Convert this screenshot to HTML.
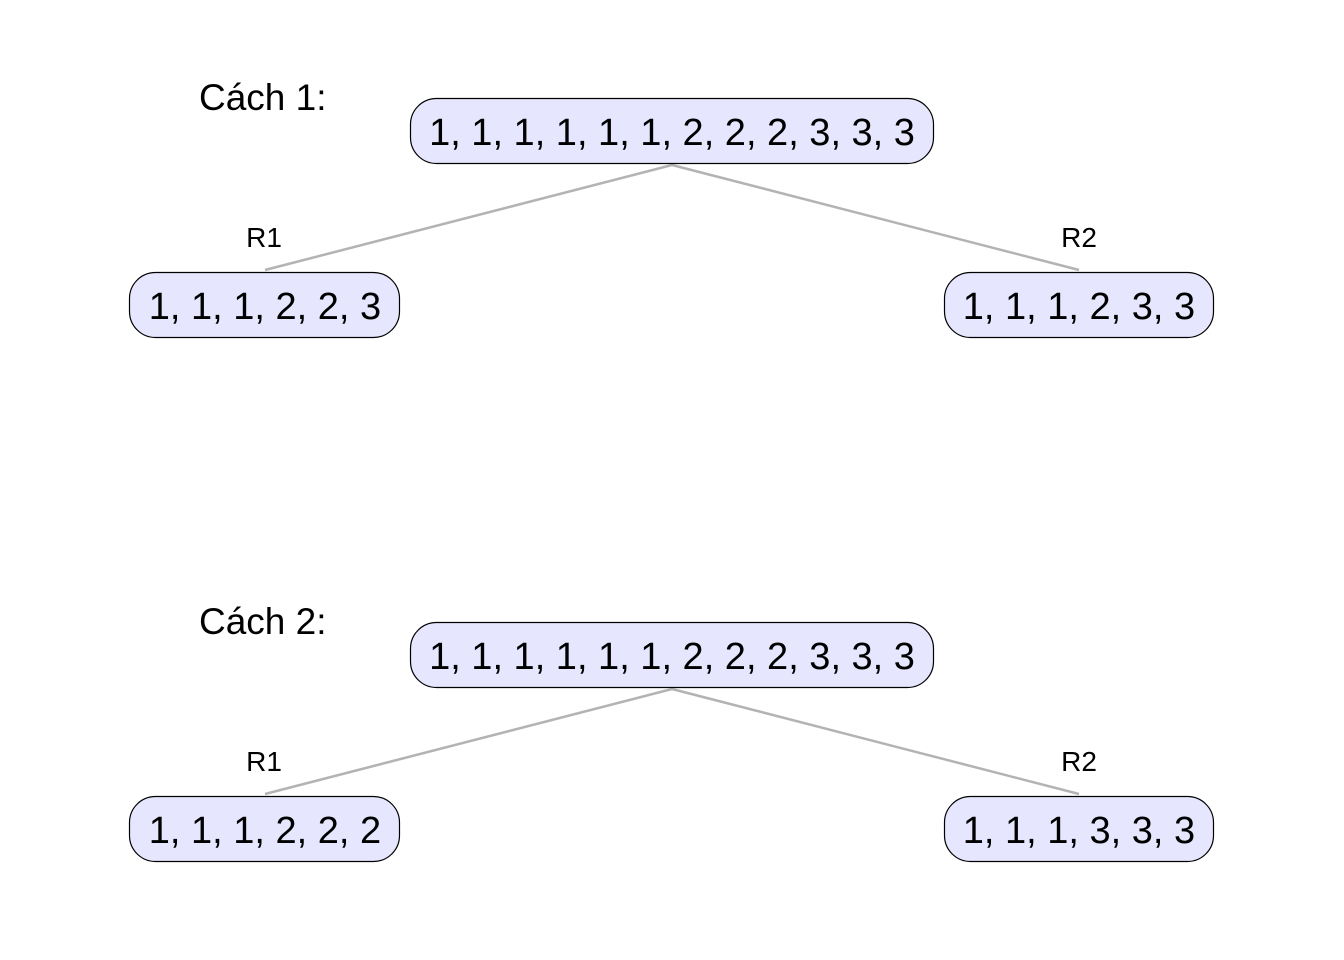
<!DOCTYPE html>
<html><head><meta charset="utf-8"><style>body{margin:0;background:#fff}svg{display:block}</style></head>
<body>
<svg width="1344" height="960" xmlns="http://www.w3.org/2000/svg" font-family="Liberation Sans, Arial, sans-serif">
<g stroke="#b3b3b3" stroke-width="2.5">
<line x1="672" y1="165" x2="265" y2="270"/><line x1="672" y1="165" x2="1079" y2="270"/>
<line x1="672" y1="689" x2="265" y2="794"/><line x1="672" y1="689" x2="1079" y2="794"/>
</g>
<g fill="#e6e6ff" stroke="#000" stroke-width="1.2">
<rect x="410.5" y="98.5" width="523" height="65" rx="26"/>
<rect x="129.5" y="272.5" width="270" height="65" rx="26"/>
<rect x="944.5" y="272.5" width="269" height="65" rx="26"/>
<rect x="410.5" y="622.5" width="523" height="65" rx="26"/>
<rect x="129.5" y="796.5" width="270" height="65" rx="26"/>
<rect x="944.5" y="796.5" width="269" height="65" rx="26"/>
</g>
<g font-size="38" text-anchor="middle" fill="#000">
<text x="672" y="145">1, 1, 1, 1, 1, 1, 2, 2, 2, 3, 3, 3</text>
<text x="265" y="319">1, 1, 1, 2, 2, 3</text>
<text x="1079" y="319">1, 1, 1, 2, 3, 3</text>
<text x="672" y="669">1, 1, 1, 1, 1, 1, 2, 2, 2, 3, 3, 3</text>
<text x="265" y="843">1, 1, 1, 2, 2, 2</text>
<text x="1079" y="843">1, 1, 1, 3, 3, 3</text>
</g>
<g font-size="28" text-anchor="middle">
<text x="264" y="247">R1</text><text x="1079" y="247">R2</text>
<text x="264" y="771">R1</text><text x="1079" y="771">R2</text>
</g>
<g font-size="37">
<text x="199" y="110">Cách 1:</text>
<text x="199" y="634">Cách 2:</text>
</g>
</svg>
</body></html>
